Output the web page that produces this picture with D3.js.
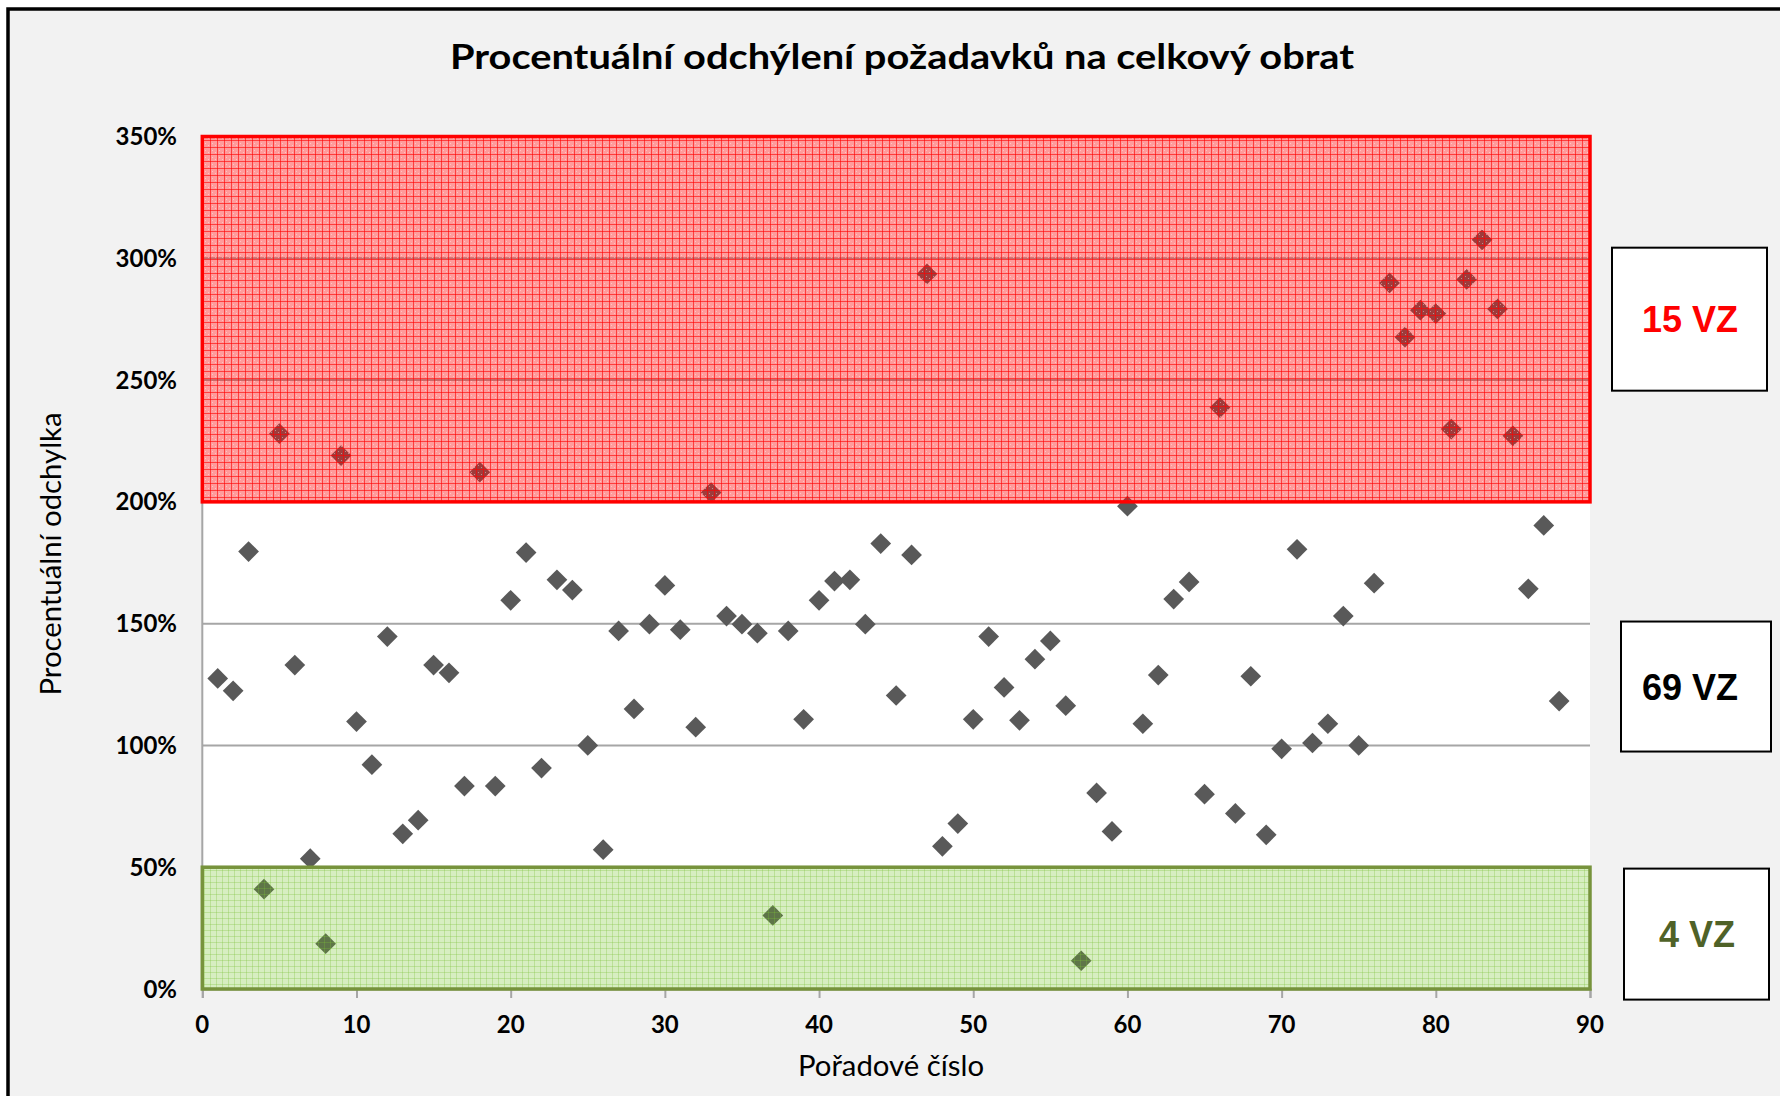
<!DOCTYPE html>
<html lang="cs">
<head>
  <meta charset="utf-8">
  <title>Procentuální odchýlení</title>
  <script src="https://cdnjs.cloudflare.com/ajax/libs/d3/7.8.5/d3.min.js"></script>
  <style>
    body { margin: 0; background: #fff; }
    .tick-label { font-family: Lato, "Open Sans", sans-serif; font-weight: bold; font-size: 24px; fill: #000; }
    .axis-title { font-family: Lato, "Open Sans", sans-serif; font-size: 28px; fill: #000; }
    .box-label { font-family: "Liberation Sans", Arial, sans-serif; font-weight: bold; font-size: 36px; }
  </style>
</head>
<body>
<script>
  // order numbers (x) and percentage deviation (y)
  var orderNo = [1, 2, 3, 4, 5, 6, 7, 8, 9, 10, 11, 12, 13, 14, 15, 16, 17, 18, 19, 20,
    21, 22, 23, 24, 25, 26, 27, 28, 29, 30, 31, 32, 33, 34, 35, 36, 37, 38, 39, 40,
    41, 42, 43, 44, 45, 46, 47, 48, 49, 50, 51, 52, 53, 54, 55, 56, 57, 58, 59, 60,
    61, 62, 63, 64, 65, 66, 67, 68, 69, 70, 71, 72, 73, 74, 75, 76, 77, 78, 79, 80,
    81, 82, 83, 84, 85, 86, 87, 88];
  var deviation = [127.5, 122.4, 179.6, 41, 228, 133, 53.5, 18.6, 219, 109.8,
    92.1, 144.7, 63.7, 69.3, 133, 129.8, 83.3, 212.2, 83.3, 159.6,
    179.2, 90.7, 168, 163.8, 100, 57.2, 147, 115, 149.8, 165.7,
    147.5, 107.5, 203.8, 153.1, 149.8, 146.1, 30.2, 147, 110.7, 159.6,
    167.5, 168, 149.8, 182.9, 120.5, 178.2, 293.6, 58.6, 67.9, 110.7,
    144.7, 123.8, 110.3, 135.4, 142.9, 116.3, 11.6, 80.5, 64.7, 198.2,
    108.9, 128.9, 160.1, 167.1, 80, 238.7, 72.1, 128.4, 63.3, 98.6,
    180.5, 101, 108.9, 153.1, 100, 166.6, 289.9, 267.6, 278.7, 277.3,
    229.9, 291.3, 307.6, 279.2, 227.1, 164.3, 190.3, 118.2];

  // bands and their counts
  var bandFrom = [200, 50, 0];
  var bandTo = [350, 200, 50];
  var bandLabels = ["15 VZ", "69 VZ", "4 VZ"];

  var xTicks = [0, 10, 20, 30, 40, 50, 60, 70, 80, 90];
  var yTicks = [0, 50, 100, 150, 200, 250, 300, 350];

  var title = "Procentuální odchýlení požadavků na celkový obrat";
  var xTitle = "Pořadové číslo";
  var yTitle = "Procentuální odchylka";

  //Width and height
  var w = 1780;
  var h = 1096;

  var xScale = d3.scaleLinear().domain([0, 90]).range([202.3, 1590]);
  var yScale = d3.scaleLinear().domain([0, 350]).range([989, 136.5]);

  var svg = d3.select("body")
    .append("svg")
    .attr("width", w)
    .attr("height", h);

  // patterns for the bands
  var defs = svg.append("defs");
  var pRed = defs.append("pattern")
    .attr("id", "gridRed")
    .attr("width", 7).attr("height", 7)
    .attr("patternUnits", "userSpaceOnUse");
  pRed.append("rect").attr("width", 7).attr("height", 7)
    .attr("fill", "#ff1010").attr("fill-opacity", 0.42);
  pRed.append("path").attr("d", "M0,0.5H7M0.5,0V7")
    .attr("stroke", "#ff0000").attr("stroke-opacity", 0.6).attr("stroke-width", 1);
  pRed.append("rect").attr("x", 2).attr("y", 3).attr("width", 1).attr("height", 1)
    .attr("fill", "#fff").attr("fill-opacity", 0.4);
  pRed.append("rect").attr("x", 5).attr("y", 5).attr("width", 1).attr("height", 1)
    .attr("fill", "#fff").attr("fill-opacity", 0.4);

  var pGreen = defs.append("pattern")
    .attr("id", "gridGreen")
    .attr("width", 6).attr("height", 6)
    .attr("patternUnits", "userSpaceOnUse");
  pGreen.append("rect").attr("width", 6).attr("height", 6)
    .attr("fill", "#6cbf1a").attr("fill-opacity", 0.27);
  pGreen.append("path").attr("d", "M0,0.5H6M0.5,0V6")
    .attr("stroke", "#7cc034").attr("stroke-opacity", 0.3).attr("stroke-width", 1);

  // chart background and frame
  svg.append("rect")
    .attr("x", 8).attr("y", 9)
    .attr("width", 1800).attr("height", 1100)
    .attr("fill", "#f2f2f2")
    .attr("stroke", "#000")
    .attr("stroke-width", 3.5);

  // plot area
  svg.append("rect")
    .attr("x", xScale(0)).attr("y", yScale(350))
    .attr("width", xScale(90) - xScale(0))
    .attr("height", yScale(0) - yScale(350))
    .attr("fill", "#fff");

  // gridlines
  svg.append("g")
    .selectAll("line")
    .data(yTicks)
    .enter()
    .append("line")
    .attr("x1", xScale(0))
    .attr("x2", xScale(90))
    .attr("y1", function (d) { return yScale(d); })
    .attr("y2", function (d) { return yScale(d); })
    .attr("stroke", "#a6a6a6")
    .attr("stroke-width", 2);

  // y axis line
  svg.append("line")
    .attr("x1", xScale(0)).attr("x2", xScale(0))
    .attr("y1", yScale(0)).attr("y2", yScale(350))
    .attr("stroke", "#a6a6a6")
    .attr("stroke-width", 2);

  // x axis with small ticks
  var xAxis = d3.axisBottom(xScale)
    .tickValues(xTicks)
    .tickSize(9)
    .tickFormat("");
  var gx = svg.append("g")
    .attr("transform", "translate(0," + yScale(0) + ")")
    .call(xAxis);
  gx.select(".domain").attr("stroke", "#a6a6a6").attr("stroke-width", 2);
  gx.selectAll(".tick line").attr("stroke", "#a6a6a6").attr("stroke-width", 2);

  svg.append("g")
    .selectAll("text")
    .data(xTicks)
    .enter()
    .append("text")
    .attr("class", "tick-label")
    .attr("x", function (d) { return xScale(d); })
    .attr("y", 1033)
    .attr("text-anchor", "middle")
    .text(function (d) { return d; });

  svg.append("g")
    .selectAll("text")
    .data(yTicks)
    .enter()
    .append("text")
    .attr("class", "tick-label")
    .attr("x", 177)
    .attr("y", function (d) { return yScale(d) + 8.5; })
    .attr("text-anchor", "end")
    .text(function (d) { return d + "%"; });

  // points (drawn before the bands so the bands tint them)
  var points = orderNo.map(function (n, i) { return { x: n, y: deviation[i] }; });
  var diamond = d3.symbol().type(d3.symbolSquare).size(215);
  svg.append("g")
    .selectAll("path")
    .data(points)
    .enter()
    .append("path")
    .attr("d", diamond)
    .attr("transform", function (d) {
      return "translate(" + xScale(d.x) + "," + yScale(d.y) + ") rotate(45)";
    })
    .attr("fill", "#595959");

  // bands
  var bandFill = ["url(#gridRed)", "none", "url(#gridGreen)"];
  var bandStroke = ["#ff0000", "none", "#77933c"];
  svg.append("g")
    .selectAll("rect")
    .data(bandFrom)
    .enter()
    .filter(function (d, i) { return bandFill[i] !== "none"; })
    .append("rect")
    .attr("x", xScale(0))
    .attr("y", function (d) { return yScale(bandTo[bandFrom.indexOf(d)]); })
    .attr("width", xScale(90) - xScale(0))
    .attr("height", function (d) { var i = bandFrom.indexOf(d); return yScale(bandFrom[i]) - yScale(bandTo[i]); })
    .attr("fill", function (d) { return bandFill[bandFrom.indexOf(d)]; })
    .attr("stroke", function (d) { return bandStroke[bandFrom.indexOf(d)]; })
    .attr("stroke-width", 3.5);

  // count boxes on the right
  var boxLeft = [1612, 1621, 1624];
  var boxWidth = [155, 150, 145];
  var boxHeight = [143, 130, 131];
  var boxColor = ["#ff0000", "#000000", "#4f6228"];
  var boxShift = [0, 2, 6];
  var boxes = svg.append("g")
    .selectAll("g")
    .data(bandLabels)
    .enter()
    .append("g")
    .attr("transform", function (d, i) {
      var cy = yScale((bandFrom[i] + bandTo[i]) / 2) + boxShift[i];
      return "translate(" + boxLeft[i] + "," + (cy - boxHeight[i] / 2) + ")";
    });
  boxes.append("rect")
    .attr("width", function (d, i) { return boxWidth[i]; })
    .attr("height", function (d, i) { return boxHeight[i]; })
    .attr("fill", "#fff")
    .attr("stroke", "#000")
    .attr("stroke-width", 2);
  boxes.append("text")
    .attr("class", "box-label")
    .attr("x", function (d, i) { return 1690 + (i === 2 ? 7 : 0) - boxLeft[i]; })
    .attr("y", function (d, i) { return boxHeight[i] / 2 + 13; })
    .attr("text-anchor", "middle")
    .attr("fill", function (d, i) { return boxColor[i]; })
    .text(function (d) { return d; });

  // titles
  svg.append("text")
    .attr("x", 902)
    .attr("y", 69)
    .attr("text-anchor", "middle")
    .attr("font-family", "Lato, 'Open Sans', sans-serif")
    .attr("font-weight", "bold")
    .attr("font-size", "35px")
    .attr("textLength", 904)
    .attr("lengthAdjust", "spacingAndGlyphs")
    .text(title);

  svg.append("text")
    .attr("class", "axis-title")
    .attr("x", 891)
    .attr("y", 1076)
    .attr("text-anchor", "middle")
    .attr("textLength", 186)
    .attr("lengthAdjust", "spacingAndGlyphs")
    .text(xTitle);

  svg.append("text")
    .attr("class", "axis-title")
    .attr("transform", "translate(61,554) rotate(-90)")
    .attr("text-anchor", "middle")
    .attr("textLength", 283)
    .attr("lengthAdjust", "spacingAndGlyphs")
    .text(yTitle);
</script>
</body>
</html>
